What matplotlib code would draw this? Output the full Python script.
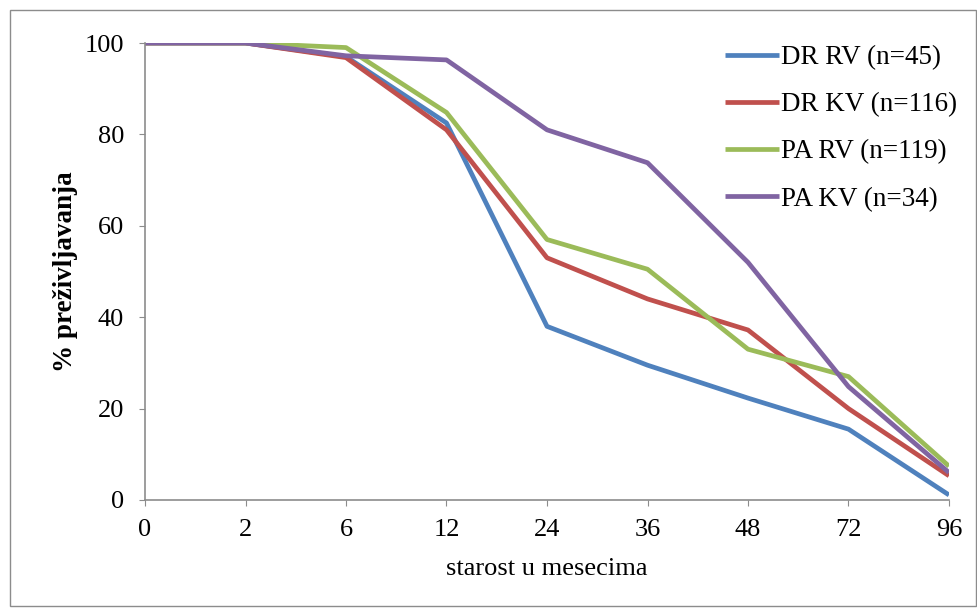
import matplotlib
matplotlib.use("Agg")
import matplotlib.pyplot as plt
from matplotlib.patches import Rectangle

months = ["0", "2", "6", "12", "24", "36", "48", "72", "96"]

dr_rv = [100, 100, 97, 82.5, 38, 29.5, 22.3, 15.5, 1.1]
dr_kv = [100, 100, 96.8, 81, 53, 44, 37.2, 20, 5.3]
pa_rv = [100, 100, 99, 84.8, 57, 50.5, 33, 27, 7.4]
pa_kv = [100, 100, 97.2, 96.3, 81, 73.8, 52, 24.8, 6]

series = [
    ("DR RV (n=45)", dr_rv, "#4F81BD"),
    ("DR KV (n=116)", dr_kv, "#C0504D"),
    ("PA RV (n=119)", pa_rv, "#9BBB59"),
    ("PA KV (n=34)", pa_kv, "#8064A2"),
]

plt.rcParams["font.family"] = ["Liberation Serif", "DejaVu Serif"]

fig = plt.figure(figsize=(9.77, 6.11), dpi=100)
ax = fig.add_axes([145 / 977, 1 - 500 / 611, (949 - 145) / 977, (500 - 43) / 611])

x = list(range(len(months)))
for label, vals, color in series:
    ax.plot(x, vals, color=color, lw=3.4, label=label, solid_joinstyle="round",
            solid_capstyle="butt")

ax.set_xlim(0, len(months) - 1)
ax.set_ylim(0, 100)
ax.set_xticks(x)
ax.set_xticklabels(months)
ax.set_yticks([0, 20, 40, 60, 80, 100])

for side in ["top", "right"]:
    ax.spines[side].set_visible(False)
for side in ["left", "bottom"]:
    ax.spines[side].set_color("#8c8c8c")
    ax.spines[side].set_linewidth(1.2)
ax.tick_params(axis="both", colors="#8c8c8c", labelcolor="black", length=4,
               labelsize=19)
ax.tick_params(axis="y", pad=11)
ax.tick_params(axis="x", pad=10)

ax.set_xlabel("starost u mesecima", fontsize=19, labelpad=12)
ax.set_ylabel("% preživljavanja", fontsize=19.5, fontweight="bold", labelpad=5)

ax.legend(loc="upper left", bbox_to_anchor=(725 / 977, 1 - 45 / 611),
          bbox_transform=fig.transFigure, frameon=False, borderpad=0,
          borderaxespad=0, fontsize=19.5, handlelength=2.0,
          handletextpad=0.05, labelspacing=0.82)

fig.patches.append(Rectangle((10 / 977, 5 / 611), 1 - 10 / 977 - 1 / 977,
                             1 - 15 / 611, transform=fig.transFigure,
                             fill=False, edgecolor="#8c8c8c", lw=1))

fig.savefig("out.png", dpi=100)
